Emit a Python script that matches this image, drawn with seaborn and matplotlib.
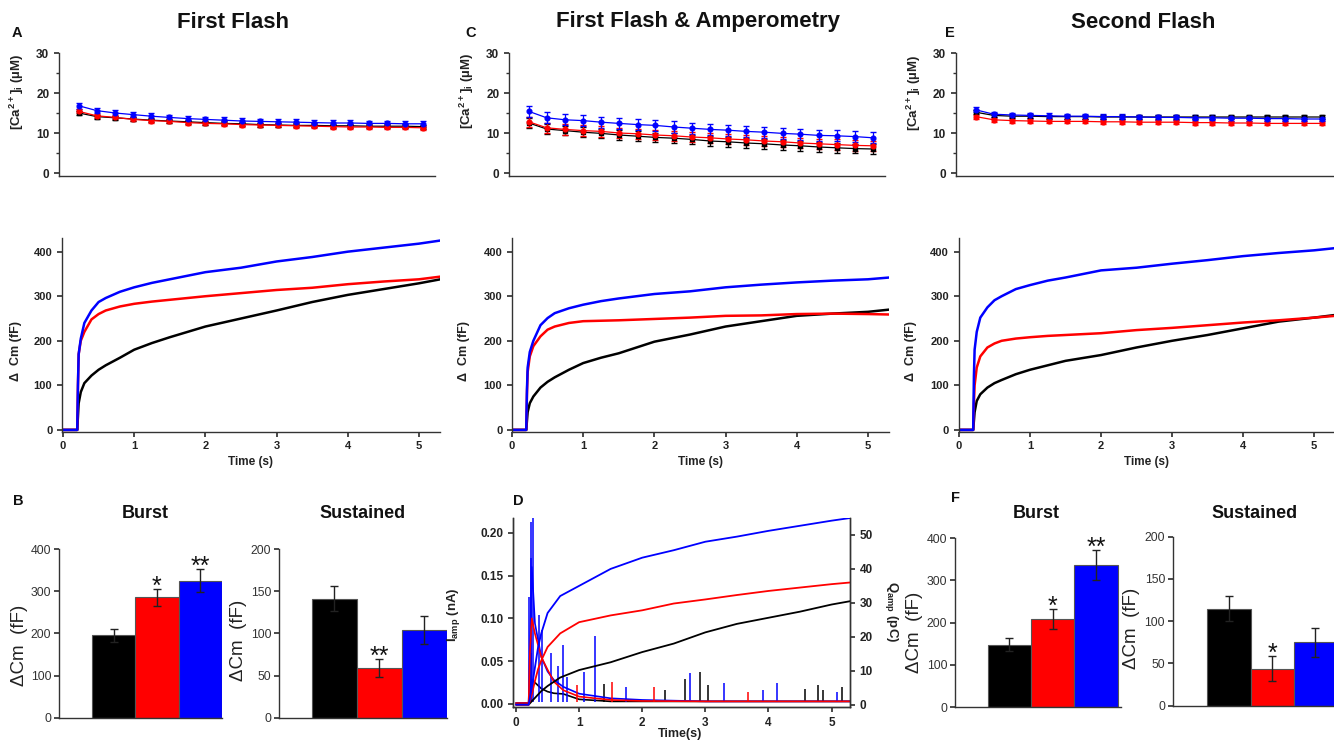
import matplotlib
matplotlib.use('Agg')
import matplotlib.pyplot as plt
from matplotlib.ticker import MultipleLocator
import seaborn as sns

# ---------------- data ----------------
groups = ['black', 'red', 'blue']
colors = ['#000000', '#ff0000', '#0000ff']

# [Ca2+]i time course (uM), 20 samples
ca_t = [0.22, 0.47, 0.73, 0.98, 1.24, 1.49, 1.75, 2.0, 2.26, 2.51,
        2.77, 3.02, 3.28, 3.53, 3.79, 4.04, 4.3, 4.55, 4.81, 5.06]
ca_A_black = [15.0, 14.1, 13.8, 13.5, 13.2, 13.0, 12.8, 12.6, 12.4, 12.3, 12.1, 12.0, 11.9, 11.9, 11.8, 11.8, 11.7, 11.7, 11.7, 11.6]
ca_A_red = [15.4, 14.3, 13.9, 13.4, 13.1, 12.9, 12.6, 12.4, 12.3, 12.1, 12.0, 11.9, 11.8, 11.7, 11.6, 11.5, 11.5, 11.4, 11.4, 11.3]
ca_A_blue = [16.8, 15.6, 15.0, 14.6, 14.2, 13.9, 13.6, 13.4, 13.2, 13.0, 12.9, 12.8, 12.7, 12.6, 12.5, 12.5, 12.4, 12.4, 12.3, 12.3]
ca_C_black = [12.5, 11.0, 10.6, 10.2, 9.9, 9.5, 9.2, 8.9, 8.7, 8.4, 8.0, 7.8, 7.5, 7.3, 7.0, 6.8, 6.5, 6.3, 6.1, 6.0]
ca_C_red = [12.8, 11.3, 10.9, 10.6, 10.4, 10.0, 9.8, 9.5, 9.3, 9.0, 8.8, 8.5, 8.3, 8.0, 7.8, 7.5, 7.3, 7.1, 6.9, 6.8]
ca_C_blue = [15.4, 13.8, 13.3, 13.1, 12.7, 12.4, 12.1, 11.9, 11.5, 11.2, 10.9, 10.7, 10.4, 10.2, 9.9, 9.7, 9.4, 9.3, 9.1, 8.8]
ca_E_black = [15.2, 14.4, 14.2, 14.2, 14.1, 14.1, 14.1, 14.0, 14.0, 14.0, 14.0, 14.0, 14.0, 14.0, 14.0, 14.0, 14.0, 14.0, 14.0, 14.0]
ca_E_red = [14.1, 13.3, 13.1, 13.0, 12.9, 12.9, 12.9, 12.8, 12.8, 12.7, 12.7, 12.7, 12.6, 12.6, 12.5, 12.5, 12.4, 12.4, 12.4, 12.4]
ca_E_blue = [15.8, 14.7, 14.5, 14.4, 14.3, 14.2, 14.2, 14.1, 14.1, 14.0, 13.9, 13.9, 13.8, 13.8, 13.7, 13.7, 13.6, 13.6, 13.5, 13.5]
ca_A_sem = [0.5, 0.5, 0.7]
ca_C_sem = [1.2, 1.3, 1.4]
ca_E_sem = [0.5, 0.5, 0.6]

# capacitance traces (fF)
cm_t = [0, 0.2, 0.21, 0.22, 0.25, 0.3, 0.4, 0.5, 0.6, 0.8, 1.0,
        1.25, 1.5, 2.0, 2.5, 3.0, 3.5, 4.0, 4.5, 5.0, 5.3]
cm_A_black = [0, 0, 30, 60, 85, 105, 122, 135, 145, 162, 180, 195, 208, 232, 250, 268, 287, 303, 316, 329, 338]
cm_A_red = [0, 0, 100, 170, 200, 220, 248, 260, 268, 277, 283, 288, 292, 300, 307, 314, 319, 327, 333, 338, 344]
cm_A_blue = [0, 0, 100, 170, 205, 240, 268, 287, 296, 310, 320, 330, 338, 354, 364, 378, 388, 400, 409, 418, 425]
cm_C_black = [0, 0, 20, 40, 60, 75, 95, 108, 118, 135, 150, 162, 172, 198, 214, 232, 244, 256, 261, 265, 270]
cm_C_red = [0, 0, 80, 130, 165, 188, 210, 225, 232, 240, 244, 245, 246, 249, 252, 256, 257, 260, 261, 260, 259]
cm_C_blue = [0, 0, 90, 140, 175, 200, 235, 251, 262, 273, 281, 289, 295, 305, 311, 320, 326, 331, 335, 338, 342]
cm_E_black = [0, 0, 20, 40, 65, 80, 95, 105, 112, 125, 135, 145, 155, 168, 185, 200, 213, 228, 243, 252, 258]
cm_E_red = [0, 0, 60, 100, 140, 165, 185, 194, 200, 205, 208, 211, 213, 217, 224, 229, 235, 241, 246, 252, 256]
cm_E_blue = [0, 0, 120, 180, 220, 252, 275, 291, 300, 316, 325, 335, 342, 358, 364, 373, 381, 390, 397, 403, 408]

# amperometric current (nA), smooth envelope
amp_t = [0, 0.2, 0.22, 0.25, 0.3, 0.4, 0.5, 0.6, 0.75, 1.0, 1.5, 2.0, 3.0, 4.0, 5.3]
amp_black = [0.001, 0.001, 0.02, 0.028, 0.025, 0.018, 0.0144, 0.0125, 0.0117, 0.0054, 0.003, 0.003, 0.003, 0.003, 0.003]
amp_red = [0.001, 0.001, 0.06, 0.1, 0.082, 0.055, 0.04, 0.026, 0.016, 0.0086, 0.0047, 0.0035, 0.003, 0.003, 0.003]
amp_blue = [0.001, 0.001, 0.06, 0.16, 0.094, 0.055, 0.038, 0.028, 0.02, 0.012, 0.0066, 0.0047, 0.003, 0.003, 0.003]
# amperometric spikes (time s, peak nA)
spk_black_t = [0.24, 1.4, 2.36, 2.68, 2.91, 3.05, 4.58, 4.79, 4.87, 5.17]
spk_black_h = [0.059, 0.023, 0.016, 0.029, 0.037, 0.022, 0.018, 0.022, 0.016, 0.02]
spk_red_t = [0.96, 1.52, 2.19, 3.68]
spk_red_h = [0.022, 0.026, 0.02, 0.014]
spk_blue_t = [0.21, 0.232, 0.243, 0.264, 0.37, 0.41, 0.55, 0.67, 0.75, 0.81, 1.07, 1.25, 1.75, 2.76, 3.3, 3.92, 4.14, 5.08]
spk_blue_h = [0.125, 0.212, 0.17, 0.23, 0.104, 0.086, 0.059, 0.044, 0.069, 0.032, 0.037, 0.079, 0.02, 0.036, 0.025, 0.016, 0.025, 0.014]

# cumulative charge (pC)
q_t = [0, 0.2, 0.25, 0.3, 0.35, 0.4, 0.5, 0.7, 1.0, 1.5, 2.0, 2.5, 3.0, 3.5, 4.0, 4.5, 5.0, 5.3]
q_black = [0, 0, 1, 2, 3, 4, 5.5, 8, 10.2, 12.5, 15.5, 18, 21.3, 23.8, 25.6, 27.4, 29.5, 30.5]
q_red = [0, 0, 3, 7, 10.5, 13, 17, 21, 24.3, 26.3, 27.8, 29.8, 31, 32.3, 33.5, 34.5, 35.5, 36]
q_blue = [0, 0, 5, 11, 17, 21, 27, 32, 35, 40, 43.3, 45.5, 48, 49.5, 51.2, 52.7, 54.2, 55]

# bar summaries (fF, mean and sem)
B_burst = [195, 286, 325]
B_burst_sem = [15, 20, 27]
B_sust = [141, 59, 104]
B_sust_sem = [15, 11, 17]
F_burst = [148, 209, 337]
F_burst_sem = [16, 24, 35]
F_sust = [115, 44, 75]
F_sust_sem = [15, 15, 17]
B_burst_stars = ['', '*', '**']
B_sust_stars = ['', '**', '']
F_burst_stars = ['', '*', '**']
F_sust_stars = ['', '*', '']

# ---------------- style ----------------
sns.set_theme(style='ticks')
plt.rcParams['font.family'] = ['Liberation Sans', 'DejaVu Sans']
plt.rcParams['mathtext.default'] = 'regular'
plt.rcParams['axes.edgecolor'] = '#333333'
plt.rcParams['xtick.color'] = '#333333'
plt.rcParams['ytick.color'] = '#333333'
plt.rcParams['xtick.major.size'] = 3.5
plt.rcParams['ytick.major.size'] = 3.5
plt.rcParams['ytick.minor.size'] = 2.5
plt.rcParams['axes.linewidth'] = 1.0

W, H = 1334, 743
fig = plt.figure(figsize=(W / 100, H / 100), dpi=100)


def add_ax(l, t, r, b):
    return fig.add_axes([l / W, 1 - b / H, (r - l) / W, (b - t) / H])


def ftext(x, y, s, **kw):
    fig.text(x / W, 1 - y / H, s, **kw)


def bold_ticks(ax, size=8.5):
    for lab in ax.get_xticklabels() + ax.get_yticklabels():
        lab.set_fontweight('bold')
        lab.set_fontsize(size)
        lab.set_color('#222222')


def ca_panel(box, series, sems, ylab_y):
    ax = add_ax(*box)
    markers = ['s', 'o', 'o']
    for vals, c, m, e in zip(series, colors, markers, sems):
        ax.errorbar(ca_t, vals, yerr=e, color=c, lw=0.9, marker=m, ms=3.4,
                    elinewidth=0.9, capsize=2, zorder=3)
    ax.set_xlim(-0.06, 5.23)
    ax.set_ylim(-0.75, 30)
    ax.set_yticks([0, 10, 20, 30])
    ax.yaxis.set_minor_locator(MultipleLocator(5))
    ax.set_xticks([])
    sns.despine(ax=ax)
    bold_ticks(ax)
    ax.set_ylabel(r'[Ca$^{2+}$]$_i$ (µM)', fontsize=9.5, fontweight='bold', color='#222222')
    ax.yaxis.set_label_coords(-0.087, ylab_y)
    return ax


def cm_panel(box, series, xlim, ylab_x):
    ax = add_ax(*box)
    for vals, c in zip(series, colors):
        sns.lineplot(x=cm_t, y=vals, color=c, lw=1.8, ax=ax)
    ax.set_xlim(*xlim)
    ax.set_ylim(-4, 430)
    ax.set_xticks([0, 1, 2, 3, 4, 5])
    ax.set_yticks([0, 100, 200, 300, 400])
    sns.despine(ax=ax)
    bold_ticks(ax, 8)
    ax.set_xlabel('Time (s)', fontsize=8.5, fontweight='bold', color='#222222')
    ax.xaxis.set_label_coords(0.5, -0.128)
    ax.set_ylabel('Δ  Cm (fF)', fontsize=9, fontweight='bold', color='#222222')
    ax.yaxis.set_label_coords(ylab_x, 0.417)
    return ax


def bar_panel(box, vals, sems, stars, ymax, step, xlim, ylab_xy):
    ax = add_ax(*box)
    sns.barplot(x=groups, y=vals, hue=groups, palette=colors, saturation=1,
                width=1.0, edgecolor='#555555', linewidth=0.8, errorbar=None,
                legend=False, ax=ax)
    ax.errorbar([0, 1, 2], vals, yerr=sems, fmt='none', ecolor='#222222',
                elinewidth=1.0, capsize=3, zorder=5)
    for i, (v, e, s) in enumerate(zip(vals, sems, stars)):
        if s:
            ax.annotate(s, (i, v + e), xytext=(0, -7), textcoords='offset points',
                        ha='center', va='bottom', fontsize=18, color='#111111')
    ax.set_xlim(*xlim)
    ax.set_ylim(0, ymax)
    ax.set_yticks(list(range(0, ymax + 1, step)))
    ax.set_xticks([])
    ax.set_xlabel('')
    ax.tick_params(axis='y', labelsize=8.8, colors='#333333', pad=2)
    sns.despine(ax=ax)
    ax.set_ylabel('ΔCm  (fF)', fontsize=13.5, color='#222222')
    ax.yaxis.set_label_coords(*ylab_xy)
    return ax


# ---------------- panels A, C, E (Ca) ----------------
ca_panel((59, 53, 435, 176), [ca_A_black, ca_A_red, ca_A_blue], ca_A_sem, 0.683)
ca_panel((509, 53, 885, 176), [ca_C_black, ca_C_red, ca_C_blue], ca_C_sem, 0.69)
ca_panel((955.7, 53, 1334, 176), [ca_E_black, ca_E_red, ca_E_blue], ca_E_sem, 0.675)

# ---------------- capacitance ----------------
cm_panel((62, 238.3, 440, 431.7), [cm_A_black, cm_A_red, cm_A_blue], (-0.014, 5.295), -0.105)
cm_panel((512, 238.3, 889.3, 431.7), [cm_C_black, cm_C_red, cm_C_blue], (0.0, 5.3), -0.112)
cm_panel((958.7, 238.3, 1334, 431.7), [cm_E_black, cm_E_red, cm_E_blue], (-0.004, 5.28), -0.11)

# ---------------- bars B and F ----------------
bar_panel((59, 549, 222, 717.7), B_burst, B_burst_sem, B_burst_stars, 400, 100, (-1.26, 2.5), (-0.19, 0.427))
bar_panel((279, 549, 447, 717.7), B_sust, B_sust_sem, B_sust_stars, 200, 50, (-1.23, 2.5), (-0.19, 0.46))
bar_panel((955, 538.3, 1121, 707), F_burst, F_burst_sem, F_burst_stars, 400, 100, (-1.25, 2.58), (-0.195, 0.44))
bar_panel((1172.7, 536.7, 1334, 705.7), F_sust, F_sust_sem, F_sust_stars, 200, 50, (-1.3, 2.43), (-0.2, 0.46))

# ---------------- panel D: amperometry ----------------
axd = add_ax(513, 518.3, 850, 707.3)
for t, h, env, c in [(spk_black_t, spk_black_h, amp_black, colors[0]),
                     (spk_blue_t, spk_blue_h, amp_blue, colors[2]),
                     (spk_red_t, spk_red_h, amp_red, colors[1])]:
    sns.lineplot(x=amp_t, y=env, color=c, lw=1.2, ax=axd)
    axd.vlines(t, 0.002, h, colors=c, lw=1.1)
axd.set_xlim(-0.048, 5.293)
axd.set_ylim(-0.0039, 0.2168)
axd.set_xticks([0, 1, 2, 3, 4, 5])
axd.set_yticks([0.0, 0.05, 0.10, 0.15, 0.20])
axd.set_yticklabels(['0.00', '0.05', '0.10', '0.15', '0.20'])
axd.spines['top'].set_visible(False)
bold_ticks(axd, 8.5)
axd.set_xlabel('Time(s)', fontsize=9, fontweight='bold', color='#222222')
axd.xaxis.set_label_coords(0.496, -0.11)
axd.set_ylabel(r'I$_{amp}$ (nA)', fontsize=9.5, fontweight='bold', color='#222222')
axd.yaxis.set_label_coords(-0.15, 0.488)

axq = axd.twinx()
for vals, c in zip([q_black, q_red, q_blue], colors):
    sns.lineplot(x=q_t, y=vals, color=c, lw=1.3, ax=axq)
axq.set_ylim(-0.77, 54.9)
axq.set_yticks([0, 10, 20, 30, 40, 50])
axq.spines['top'].set_visible(False)
bold_ticks(axq, 8.5)
axq.set_ylabel(r'Q$_{amp}$ (pC)', fontsize=9.5, fontweight='bold', color='#222222',
               rotation=270, va='center')
axq.yaxis.set_label_coords(1.124, 0.504)

# ---------------- titles and panel letters ----------------
title_kw = dict(fontsize=16, fontweight='bold', ha='center', va='center', color='#111111')
ftext(233, 22, 'First Flash', **title_kw)
ftext(698, 22, 'First Flash & Amperometry', **title_kw)
ftext(1143, 22, 'Second Flash', **title_kw)

sub_kw = dict(fontsize=13, fontweight='bold', ha='center', va='center', color='#111111')
ftext(145, 513, 'Burst', **sub_kw)
ftext(363, 513, 'Sustained', **sub_kw)
ftext(1036, 513, 'Burst', **sub_kw)
ftext(1255, 513, 'Sustained', **sub_kw)

let_kw = dict(fontsize=10.5, fontweight='bold', ha='left', va='center', color='#111111')
ftext(12, 33, 'A', **let_kw)
ftext(13, 501, 'B', **let_kw)
ftext(465, 33, 'C', **let_kw)
ftext(513, 501, 'D', **let_kw)
ftext(945, 33, 'E', **let_kw)
ftext(951, 498, 'F', **let_kw)

fig.savefig('out.png', dpi=100)
